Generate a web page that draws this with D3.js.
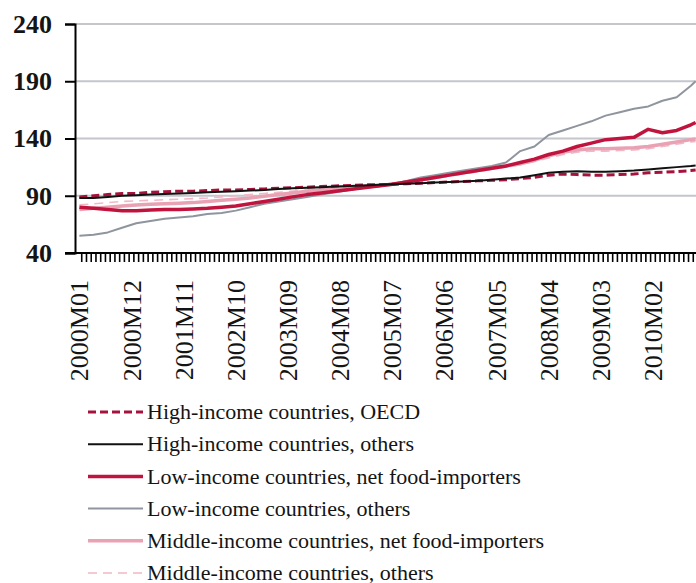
<!DOCTYPE html>
<html><head><meta charset="utf-8">
<script src="https://cdn.jsdelivr.net/npm/d3@7"></script>
<style>body{margin:0;background:#fff}svg{display:block}</style>
</head><body>
<svg id="c" width="696" height="583"></svg>
<script>
// ---- data ----
const startYear = 2000, nMonths = 131; // 2000M01 .. 2010M11
const labelEvery = 11;
const yTicks = [40, 90, 140, 190, 240];
// observation months (quarterly + last month)
const obsMonths = ["2000M01","2000M04","2000M07","2000M10","2001M01","2001M04","2001M07","2001M10","2002M01","2002M04","2002M07","2002M10","2003M01","2003M04","2003M07","2003M10","2004M01","2004M04","2004M07","2004M10","2005M01","2005M04","2005M07","2005M10","2006M01","2006M04","2006M07","2006M10","2007M01","2007M04","2007M07","2007M10","2008M01","2008M04","2008M07","2008M10","2009M01","2009M04","2009M07","2009M10","2010M01","2010M04","2010M07","2010M10","2010M11"];
const hiOECD   = [89,90,91,92,92,93,93.5,94,94,94.5,95,95,95.5,96,96.5,97,97.5,98,98.5,99,99.5,99.5,100,100.5,101,101.5,102,102.5,103,103.5,104,105,106,108,109,108.5,108,108,108.5,109,110,110.5,111,112,112.5];
const hiOthers = [88,88,89,90,90.5,91,91.5,92,92.5,93,93.5,94,94.5,95,96,96.5,97,97.5,98,98.5,99,99.5,100,100.5,101,101.5,102,102.5,103,104,105,106,108,110,111,111.5,111,111,111.5,112,113,114,115,116,116.5];
const liNFI    = [80,79,78,77,77,77.5,78,78,78.5,79,80,81,83,85,87,89,91,92.5,94,95.5,97,98.5,100,102,104,106,108,110,112,114,116,119,122,126,129,133,136,139,140,141,148,145,147,152,154];
const liOthers = [55,56,58,62,66,68,70,71,72,74,75,77,80,83,85,87,89,91,93,95,97,98,100,103,106,108,110,112,114,116,119,129,133,143,147,151,155,160,163,166,168,173,176,186,190];
const miNFI    = [78,79,80,81,82,82.5,83,83.5,84,85,86,87,88,89.5,91,92.5,94,95,96.5,97.5,98.5,99,100,102,104,106,108,110,112,114,116,118,121,125,128,130,131,131,131.5,132,133,135,137,139,139.5];
const miOthers = [82,83,84,85,85.5,86,86.5,87,87.5,88,89,90,91,92,93,94,95,96,97,98,98.5,99,100,101.5,103,105,107,109,111,113,115,117,120,123,126,128,129,129,129.5,130,131,133,135,137,137.5];
const seriesNames = ["High-income countries, OECD","High-income countries, others","Low-income countries, net food-importers","Low-income countries, others","Middle-income countries, net food-importers","Middle-income countries, others"];

const months = [];
for (let i = 0; i < nMonths; i++) {
  const y = startYear + Math.floor(i / 12), m = (i % 12) + 1;
  months.push(y + "M" + (m < 10 ? "0" + m : m));
}
const series = [
  {name: seriesNames[0], values: hiOECD,   color: "#a5133c", width: 3,   dash: "8,4"},
  {name: seriesNames[1], values: hiOthers, color: "#111111", width: 2,   dash: null},
  {name: seriesNames[2], values: liNFI,    color: "#c0143f", width: 3.5, dash: null},
  {name: seriesNames[3], values: liOthers, color: "#8f959e", width: 2,   dash: null},
  {name: seriesNames[4], values: miNFI,    color: "#e9a2b4", width: 3.5, dash: null},
  {name: seriesNames[5], values: miOthers, color: "#f2b8c6", width: 1.6, dash: "9,6"}
];

// ---- chart ----
const svg = d3.select("#c");
const x = d3.scaleBand().domain(months).range([77, 698]).padding(0);
const y = d3.scaleLinear().domain([40, 240]).range([253, 24]);
const cx = m => x(m) + x.bandwidth() / 2;

// gridlines
svg.append("g").selectAll("line").data(yTicks.filter(d => d > 40)).join("line")
  .attr("x1", 75).attr("x2", 696).attr("y1", d => y(d)).attr("y2", d => y(d))
  .attr("stroke", "#c4c6cc").attr("stroke-width", 2);

// lines (draw order: light first)
const line = d3.line().x((d, i) => cx(obsMonths[i])).y(d => y(d));
const g = svg.append("g");
[5, 4, 3, 2, 0, 1].forEach(k => {
  const s = series[k];
  g.append("path").attr("d", line(s.values)).attr("fill", "none")
    .attr("stroke", s.color).attr("stroke-width", s.width)
    .attr("stroke-dasharray", s.dash).attr("stroke-linejoin", "round");
});

// y axis
const yAxis = d3.axisLeft(y).tickValues(yTicks).tickSize(10).tickPadding(14);
const ya = svg.append("g").attr("transform", "translate(75,0)").call(yAxis);
ya.select(".domain").attr("stroke", "#000").attr("stroke-width", 2);
ya.selectAll(".tick line").attr("stroke", "#000").attr("stroke-width", 2);
ya.selectAll("text").attr("font-family", "Liberation Serif").attr("font-size", 26)
  .attr("fill", "#141414").attr("font-weight", "bold").attr("x", -23);

// x axis: ticks at category boundaries
const xa = svg.append("g");
xa.append("line").attr("x1", 65).attr("x2", 696).attr("y1", 253).attr("y2", 253)
  .attr("stroke", "#000").attr("stroke-width", 2);
xa.selectAll(".mt").data(months).join("line").attr("class", "mt")
  .attr("x1", d => x(d) + x.bandwidth()).attr("x2", d => x(d) + x.bandwidth())
  .attr("y1", 253).attr("y2", 262).attr("stroke", "#000").attr("stroke-width", 1.6);
xa.selectAll(".lab").data(months.filter((d, i) => i % labelEvery === 0)).join("text")
  .attr("class", "lab")
  .attr("transform", d => `translate(${cx(d)},280) rotate(-90)`)
  .attr("text-anchor", "end").attr("dy", "0.35em")
  .attr("font-family", "Liberation Serif").attr("font-size", 26).attr("fill", "#141414")
  .text(d => d);

// legend
const lg = svg.append("g");
series.forEach((s, i) => {
  const yy = 412 + i * 32.2;
  lg.append("line").attr("x1", 88).attr("x2", 143).attr("y1", yy).attr("y2", yy)
    .attr("stroke", s.color).attr("stroke-width", s.width).attr("stroke-dasharray", s.dash);
  lg.append("text").attr("x", 147).attr("y", yy).attr("dy", "0.33em")
    .attr("font-family", "Liberation Serif").attr("font-size", 22).attr("fill", "#141414")
    .text(s.name);
});
</script>
</body></html>
